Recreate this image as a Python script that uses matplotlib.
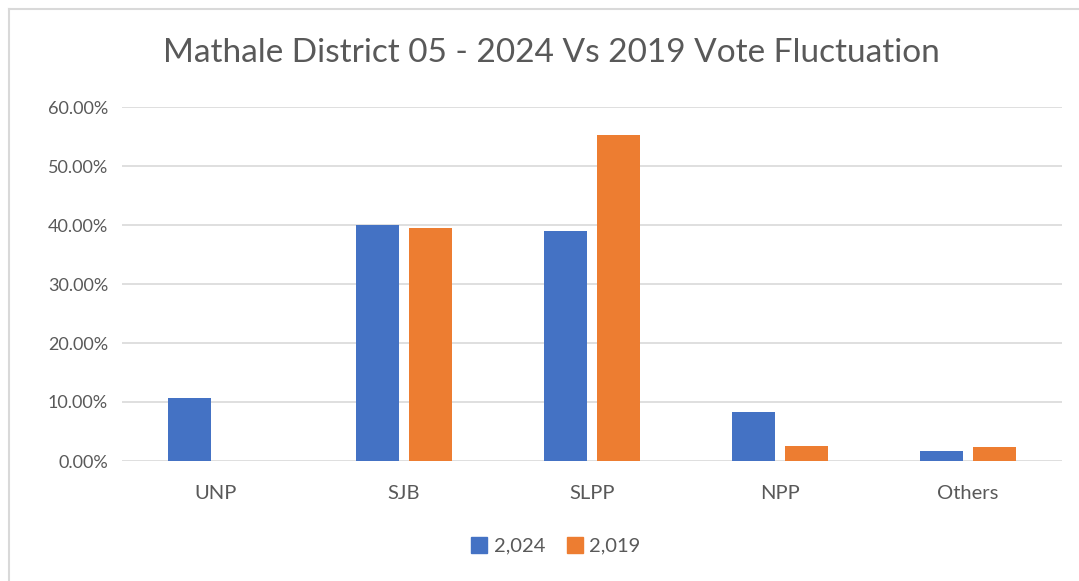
import matplotlib
matplotlib.use("Agg")
import matplotlib.pyplot as plt
import numpy as np
from matplotlib.ticker import FuncFormatter
from matplotlib.lines import Line2D

categories = ["UNP", "SJB", "SLPP", "NPP", "Others"]
series_names = ["2,024", "2,019"]
values_2024 = [10.75, 40.0, 38.98, 8.3, 1.7]
values_2019 = [0.0, 39.55, 55.3, 2.56, 2.33]
title = "Mathale District 05 - 2024 Vs 2019 Vote Fluctuation"

colors = ["#4472C4", "#ED7D31"]
text_color = "#595959"
grid_color = "#D9D9D9"

plt.rcParams['font.family'] = ['Lato', 'DejaVu Sans']

W, H = 1079, 581
fig = plt.figure(figsize=(W / 100, H / 100), dpi=100)
ax = fig.add_axes([122 / W, 1 - 461 / H, (1062 - 122) / W, (461 - 107) / H])

x = np.arange(len(categories))
width = 0.228
offset = 0.142
ax.bar(x - offset, values_2024, width, color=colors[0], label=series_names[0], zorder=3)
ax.bar(x + offset, values_2019, width, color=colors[1], label=series_names[1], zorder=3)

ax.set_xlim(-0.5, len(categories) - 0.5)
ax.set_ylim(0, 60)
ax.set_yticks(np.arange(0, 61, 10))
ax.yaxis.set_major_formatter(FuncFormatter(lambda v, p: f"{v:.2f}%"))
ax.set_xticks(x)
ax.set_xticklabels(categories)
ax.grid(axis='y', color=grid_color, linewidth=1.2, zorder=0)
for s in ax.spines.values():
    s.set_visible(False)
ax.tick_params(axis='y', length=0, colors=text_color, labelsize=13, pad=10)
ax.tick_params(axis='x', length=0, colors=text_color, labelsize=14.5, pad=17)

fig.text(551 / W, 1 - 53 / H, title, ha='center', va='center', fontsize=24, color=text_color)

handles = [Line2D([0], [0], marker='s', linestyle='none', markersize=11,
                  markerfacecolor=c, markeredgecolor=c) for c in colors]
fig.legend(handles, series_names, loc='center', bbox_to_anchor=(555 / W, 1 - 546 / H),
           ncol=2, frameon=False, fontsize=14.5, labelcolor=text_color,
           handletextpad=0.2, columnspacing=1.0, handlelength=1.0)

# chart frame lines (left and top)
fig.add_artist(Line2D([9 / W, 9 / W], [0, 1 - 9 / H], transform=fig.transFigure,
                      color=grid_color, linewidth=1.5))
fig.add_artist(Line2D([9 / W, 1], [1 - 9 / H, 1 - 9 / H], transform=fig.transFigure,
                      color=grid_color, linewidth=1.5))

fig.savefig("out.png", dpi=100, facecolor="white")
